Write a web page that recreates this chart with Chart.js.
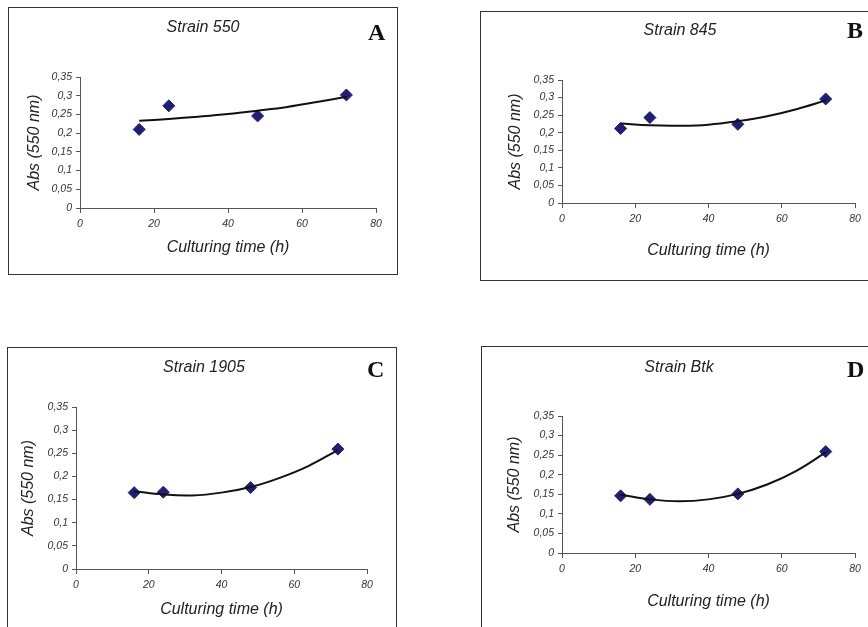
<!DOCTYPE html>
<html>
<head>
<meta charset="utf-8">
<script src="https://cdn.jsdelivr.net/npm/chart.js@4/dist/chart.umd.min.js"></script>
<style>
  body { margin:0; background:#fff; width:868px; height:627px; overflow:hidden; position:relative; font-family:"Liberation Sans", Arial, sans-serif; }
  .box { position:absolute; border:1px solid #333; box-sizing:border-box; }
  canvas { position:absolute; }
  .ttl { position:absolute; width:200px; text-align:center; font-style:italic; font-size:16px; line-height:20px; color:#222; }
  .tag { position:absolute; font-family:"Liberation Serif", "Times New Roman", serif; font-weight:bold; font-size:24px; line-height:24px; color:#111; }
</style>
</head>
<body>
<script>
// measured points (culturing time in h, absorbance at 550 nm)
const hours = [16, 24, 48, 72];
const absA = [0.210, 0.273, 0.246, 0.302];
const absB = [0.212, 0.243, 0.224, 0.296];
const absC = [0.165, 0.166, 0.176, 0.259];
const absD = [0.146, 0.137, 0.151, 0.259];

// trend lines
const trendHours = [16, 24, 32, 40, 48, 56, 64, 72];
const trendA = [0.233, 0.238, 0.244, 0.251, 0.260, 0.270, 0.283, 0.297];
const trendB = [0.226, 0.221, 0.220, 0.223, 0.233, 0.247, 0.267, 0.292];
const trendC = [0.168, 0.161, 0.159, 0.165, 0.177, 0.197, 0.223, 0.257];
const trendD = [0.149, 0.137, 0.132, 0.137, 0.151, 0.175, 0.210, 0.257];

const strains = ["Strain 550", "Strain 845", "Strain 1905", "Strain Btk"];
const letters = ["A", "B", "C", "D"];
const xTickLabels = ["0", "20", "40", "60", "80"];
const yTickLabels = ["0", "0,05", "0,1", "0,15", "0,2", "0,25", "0,3", "0,35"];

// panel boxes and plot areas in page pixels
const panels = [
  { box:[8, 7, 390, 268],   plot:[80, 77, 376, 208],    yT:35,  xT:248, ttl:[203, 27],  tag:[368, 20] },
  { box:[480, 11, 400, 270], plot:[562, 80, 855, 203],  yT:516, xT:251, ttl:[680, 30],  tag:[847, 18] },
  { box:[7, 347, 390, 290],  plot:[76, 407, 367, 569],  yT:29,  xT:610, ttl:[204, 367], tag:[367, 357] },
  { box:[481, 346, 400, 290], plot:[562, 416, 855, 553], yT:515, xT:602, ttl:[679, 367], tag:[847, 357] }
];
const absData = [absA, absB, absC, absD];
const trendData = [trendA, trendB, trendC, trendD];

const tickFont = { family:"Liberation Sans", size:10.5, style:"italic" };
const titleFont = { family:"Liberation Sans", size:16, style:"italic" };

panels.forEach((p, k) => {
  const [bx, by, bw, bh] = p.box;
  const [pl, pt, pr, pb] = p.plot;

  const frame = document.createElement("div");
  frame.className = "box";
  frame.style.cssText = `left:${bx}px;top:${by}px;width:${bw}px;height:${bh}px;`;
  document.body.appendChild(frame);

  const cv = document.createElement("canvas");
  cv.width = bw; cv.height = bh;
  cv.style.cssText = `left:${bx}px;top:${by}px;width:${bw}px;height:${bh}px;`;
  document.body.appendChild(cv);

  const ttl = document.createElement("div");
  ttl.className = "ttl";
  ttl.textContent = strains[k];
  ttl.style.left = (p.ttl[0] - 100) + "px";
  ttl.style.top = (p.ttl[1] - 10) + "px";
  document.body.appendChild(ttl);

  const tag = document.createElement("div");
  tag.className = "tag";
  tag.textContent = letters[k];
  tag.style.left = p.tag[0] + "px";
  tag.style.top = p.tag[1] + "px";
  document.body.appendChild(tag);

  new Chart(cv, {
    type: "scatter",
    data: {
      datasets: [
        {
          data: hours.map((h, i) => ({ x: h, y: absData[k][i] })),
          pointStyle: "rectRot",
          pointRadius: 6,
          backgroundColor: "#1f1f7a",
          borderColor: "#1f1f7a",
          borderWidth: 1,
          order: 1
        },
        {
          type: "line",
          data: trendHours.map((h, i) => ({ x: h, y: trendData[k][i] })),
          borderColor: "#111",
          borderWidth: 2,
          pointRadius: 0,
          tension: 0.4,
          fill: false,
          order: 0
        }
      ]
    },
    options: {
      responsive: false,
      animation: false,
      devicePixelRatio: 1,
      layout: { padding: { left: 0, top: pt - by, right: bx + bw - pr, bottom: 0 } },
      plugins: { legend: { display: false }, tooltip: { enabled: false } },
      scales: {
        x: {
          type: "linear", min: 0, max: 80,
          ticks: { stepSize: 20, color: "#333", font: tickFont, padding: 5, maxRotation: 0,
                   callback: (v, i) => xTickLabels[i] },
          grid: { drawOnChartArea: false, tickLength: 5, color: "#555" },
          border: { color: "#555" },
          title: { display: true, text: "Culturing time (h)", color: "#222", font: titleFont,
                   padding: { top: 0, bottom: by + bh - p.xT - 9.6 } },
          afterFit: s => { s.height = by + bh - pb; }
        },
        y: {
          min: 0, max: 0.35,
          ticks: { stepSize: 0.05, color: "#333", font: tickFont, padding: 4,
                   callback: (v, i) => yTickLabels[i] },
          grid: { drawOnChartArea: false, tickLength: 4, color: "#555" },
          border: { color: "#555" },
          title: { display: true, text: "Abs (550 nm)", color: "#222", font: titleFont,
                   padding: { top: p.yT - bx - 9.6, bottom: 0 } },
          afterFit: s => { s.width = pl - bx; }
        }
      }
    }
  });
});
</script>
</body>
</html>
